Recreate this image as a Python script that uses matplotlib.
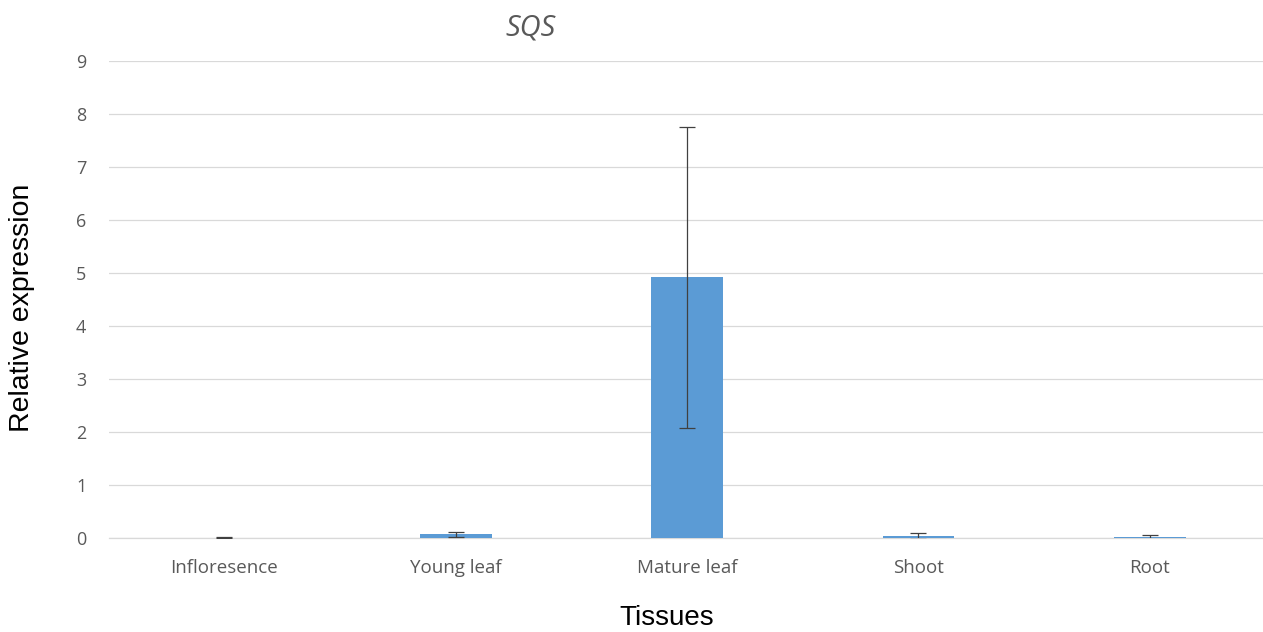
import matplotlib
matplotlib.use("Agg")
import matplotlib.pyplot as plt

categories = ["Infloresence", "Young leaf", "Mature leaf", "Shoot", "Root"]
values = [0.005, 0.07, 4.92, 0.04, 0.01]
errors = [0.01, 0.05, 2.84, 0.05, 0.05]
yticks = list(range(0, 10))

fig = plt.figure(figsize=(12.63, 6.32), dpi=100)
ax = fig.add_axes([0.086, 0.1487, 0.916, 0.7548])

x = list(range(len(categories)))
ax.bar(x, values, width=0.31, color="#5B9BD5", zorder=3,
       yerr=errors, error_kw=dict(ecolor="#404040", elinewidth=0.9, capsize=5.5, capthick=0.9, zorder=4))

ax.set_xlim(-0.5, len(categories) - 0.5)
ax.set_ylim(0, 9)
ax.set_yticks(yticks)
ax.set_xticks(x)
ax.set_xticklabels(categories, fontfamily="Open Sans", fontsize=13.5, color="#595959")
for lab in ax.get_yticklabels():
    lab.set_fontfamily("Open Sans")
    lab.set_fontsize(13)
    lab.set_color("#595959")
ax.tick_params(axis="x", length=0, pad=15)
ax.tick_params(axis="y", length=0, pad=16)
ax.grid(axis="y", color="#d9d9d9", linewidth=0.9, zorder=0)
for s in ["top", "right", "left"]:
    ax.spines[s].set_visible(False)
ax.spines["bottom"].set_color("#d9d9d9")
ax.spines["bottom"].set_linewidth(0.9)

fig.text(0.0175, 1 - 308 / 632, "Relative expression", rotation=90, va="center", ha="center",
         fontfamily="Liberation Sans", fontsize=20.5, color="#000000")
fig.text(0.528, 1 - 618 / 632, "Tissues", va="center", ha="center",
         fontfamily="Liberation Sans", fontsize=20, color="#000000")
fig.text(0.42, 1 - 28 / 632, "SQS", va="center", ha="center", style="italic",
         fontfamily="Open Sans", fontsize=21, color="#595959")

fig.savefig("out.png", dpi=100)
